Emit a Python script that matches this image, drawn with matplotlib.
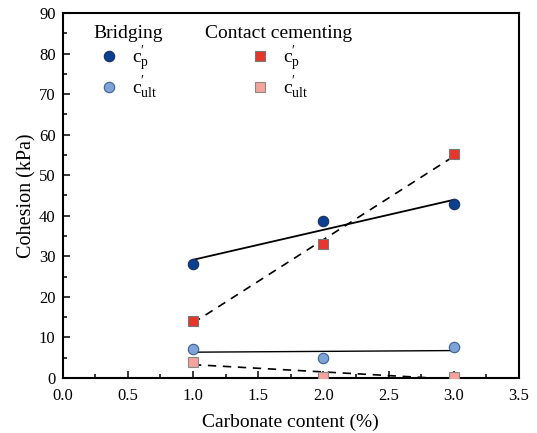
import numpy as np
import matplotlib
matplotlib.use("Agg")
import matplotlib.pyplot as plt
from matplotlib.ticker import MultipleLocator
from matplotlib.lines import Line2D

plt.rcParams['font.family'] = ['Liberation Serif', 'DejaVu Serif']
plt.rcParams['mathtext.fontset'] = 'custom'
plt.rcParams['mathtext.rm'] = 'Liberation Serif'
plt.rcParams['mathtext.it'] = 'Liberation Serif'

# data
carbonate = [1.0, 2.0, 3.0]
bridging_cp = [28.1, 38.6, 42.9]
bridging_cult = [7.2, 4.9, 7.6]
contact_cp = [14.1, 33.0, 55.2]
contact_cult = [3.9, 0.3, 0.3]

c_dark_blue = '#0b3f8f'
c_light_blue = '#7ea3d6'
c_red = '#e8352b'
c_pink = '#f6a39b'

fig = plt.figure(figsize=(5.37, 4.33), dpi=100)
ax = fig.add_axes([0.1164, 0.127, 0.85, 0.843])

x = np.array(carbonate)
xfit = np.array([1.0, 3.0])

# linear fits
for y, ls, lw in [(bridging_cp, '-', 1.3), (bridging_cult, '-', 1.0),
                  (contact_cp, '--', 1.2), (contact_cult, '--', 1.2)]:
    p = np.polyfit(x, y, 1)
    line, = ax.plot(xfit, np.polyval(p, xfit), color='k', ls=ls, lw=lw, zorder=2)
    if ls == '--':
        line.set_dashes((5, 4))

circ = dict(ls='', marker='o', ms=7.5, mew=0.8)
sq = dict(ls='', marker='s', ms=6.5, mew=0.8)
ax.plot(x, bridging_cp, mfc=c_dark_blue, mec='#1a2f5c', zorder=3, **circ)
ax.plot(x, bridging_cult, mfc=c_light_blue, mec='#3f5f8f', zorder=3, **circ)
ax.plot(x, contact_cp, mfc=c_red, mec='#777777', zorder=3, **sq)
ax.plot(x, contact_cult, mfc=c_pink, mec='#888888', zorder=3, **sq)

ax.set_xlim(0, 3.5)
ax.set_ylim(0, 90)
ax.xaxis.set_major_locator(MultipleLocator(0.5))
ax.xaxis.set_minor_locator(MultipleLocator(0.25))
ax.yaxis.set_major_locator(MultipleLocator(10))
ax.yaxis.set_minor_locator(MultipleLocator(5))
ax.tick_params(which='both', direction='in', labelsize=12, width=1.1)
ax.tick_params(which='major', length=5)
ax.tick_params(which='minor', length=3)
ax.tick_params(axis='x', pad=7)
ax.tick_params(axis='y', pad=5)
for s in ax.spines.values():
    s.set_linewidth(1.5)
ax.set_xlabel('Carbonate content (%)', fontsize=14, labelpad=7)
ax.set_ylabel('Cohesion (kPa)', fontsize=14.5, labelpad=2)

lab_p = r"$\mathrm{c}_\mathrm{p}^{\prime}$"
lab_ult = r"$\mathrm{c}_\mathrm{ult}^{\prime}$"

h1 = [Line2D([], [], mfc=c_dark_blue, mec='#1a2f5c', **circ),
      Line2D([], [], mfc=c_light_blue, mec='#3f5f8f', **circ)]
h2 = [Line2D([], [], mfc=c_red, mec='#777777', **sq),
      Line2D([], [], mfc=c_pink, mec='#888888', **sq)]

legkw = dict(loc='center left', frameon=False, fontsize=14, handlelength=1.0,
             handletextpad=0.69, labelspacing=0.1, borderpad=0, borderaxespad=0)
leg1 = ax.legend(h1, [lab_p, lab_ult], bbox_to_anchor=(0.0806, 0.837), **legkw)
ax.add_artist(leg1)
ax.legend(h2, [lab_p, lab_ult], bbox_to_anchor=(0.4114, 0.837), **legkw)

ax.text(0.0668, 0.945, 'Bridging', transform=ax.transAxes, fontsize=14,
        ha='left', va='center')
ax.text(0.312, 0.945, 'Contact cementing', transform=ax.transAxes, fontsize=14,
        ha='left', va='center')

fig.savefig('out.png', dpi=100)
